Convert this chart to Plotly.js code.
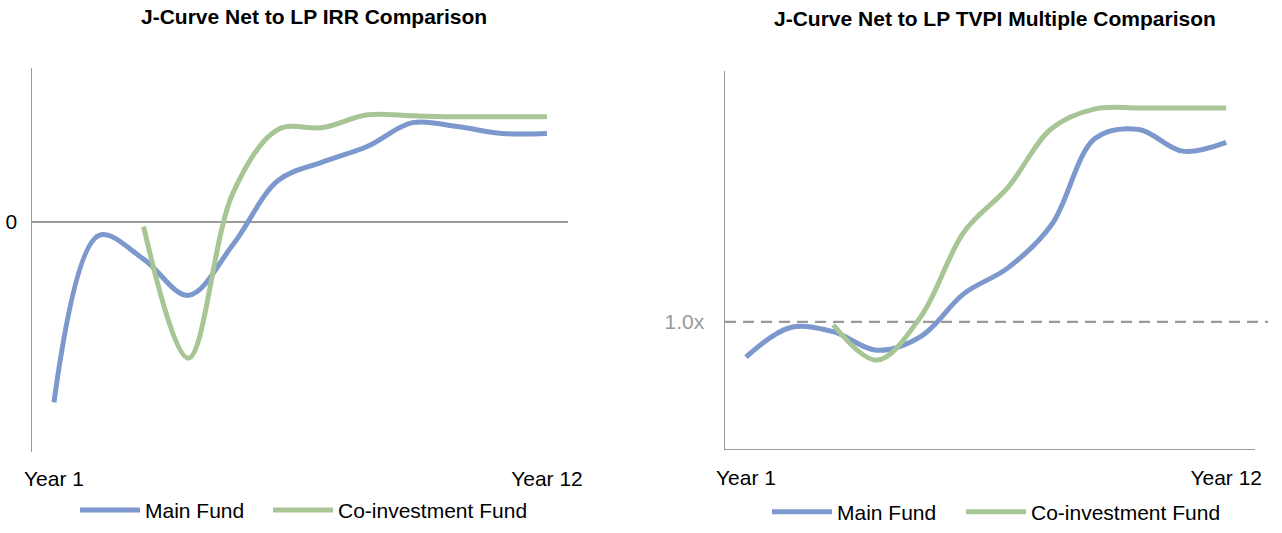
<!DOCTYPE html>
<html><head><meta charset="utf-8">
<script src="https://cdn.plot.ly/plotly-3.0.1.min.js"></script>
<style>html,body{margin:0;padding:0;overflow:hidden;background:#fff;width:1282px;height:533px}#chart{width:1282px;height:533px;display:block}</style>
</head><body><div id="chart"></div>
<script>
// ---- data ----
const years = [1,2,3,4,5,6,7,8,9,10,11,12];
const coinvYears = [3,4,5,6,7,8,9,10,11,12];
const yearTickVals = [1,12];
const yearTickText = ['Year 1','Year 12'];
const seriesNames = ['Main Fund','Co-investment Fund'];
// Net IRR (%)
const irrMain   = [-36.8,-2.8,-7.6,-15.0,-4.6,8.4,12.2,15.4,20.2,19.4,18.0,18.0];
const irrCoinv  = [-1.0,-27.8,6.0,18.8,19.2,21.8,21.6,21.4,21.4,21.4];
// TVPI multiple (x)
const tvpiMain  = [0.856,0.976,0.96,0.884,0.94,1.116,1.22,1.396,1.748,1.784,1.696,1.732];
const tvpiCoinv = [0.988,0.844,1.02,1.368,1.548,1.788,1.868,1.872,1.872,1.872];
const titles = ['J-Curve Net to LP IRR Comparison','J-Curve Net to LP TVPI Multiple Comparison'];

// ---- styles ----
const W = 1282, H = 533;
const px = v => v / W, py = v => (H - v) / H;
const BLUE = '#7c98cc', GREEN = '#a8c596', AXIS = '#9a9a9a';
const FONT = 'Arial, "Liberation Sans", sans-serif';
const lineStyle = c => ({color: c, width: 5, shape: 'spline', smoothing: 1});

const traces = [
  {x: years, y: irrMain, name: seriesNames[0], mode: 'lines', line: lineStyle(BLUE), xaxis: 'x', yaxis: 'y', legend: 'legend'},
  {x: coinvYears, y: irrCoinv, name: seriesNames[1], mode: 'lines', line: lineStyle(GREEN), xaxis: 'x', yaxis: 'y', legend: 'legend2'},
  {x: years, y: tvpiMain, name: seriesNames[0], mode: 'lines', line: lineStyle(BLUE), xaxis: 'x2', yaxis: 'y2', legend: 'legend3'},
  {x: coinvYears, y: tvpiCoinv, name: seriesNames[1], mode: 'lines', line: lineStyle(GREEN), xaxis: 'x2', yaxis: 'y2', legend: 'legend4'}
];

const tickFont = {family: FONT, size: 21, color: '#000'};
const IW = 60;
const legendAt = (textLeft, yc) => ({orientation: 'h', xanchor: 'left', yanchor: 'middle',
  x: px(textLeft - IW - 10), y: py(yc),
  font: {family: FONT, size: 21, color: '#000'}, bgcolor: 'rgba(0,0,0,0)', borderwidth: 0, itemwidth: IW});

const layout = {
  width: W, height: H,
  margin: {l: 0, r: 0, t: 0, b: 0},
  paper_bgcolor: '#fff', plot_bgcolor: '#fff',
  font: {family: FONT},
  xaxis: {domain: [px(32), px(568)], range: [0.51, 12.47], showline: false, showgrid: false, zeroline: false,
    tickvals: yearTickVals, ticktext: yearTickText, tickfont: tickFont, ticks: '', ticklabelstandoff: 12},
  yaxis: {domain: [py(461), py(69)], range: [-47.0, 31.4], showline: true, linecolor: AXIS, linewidth: 1.5,
    zeroline: true, zerolinecolor: AXIS, zerolinewidth: 1.5, showgrid: false,
    tickvals: [0], ticktext: ['0'], tickfont: tickFont, ticks: '', ticklabelstandoff: 9},
  xaxis2: {domain: [px(725), px(1255)], range: [0.519, 12.66], anchor: 'y2', showline: true, linecolor: AXIS, linewidth: 1.5,
    showgrid: false, zeroline: false, tickvals: yearTickVals, ticktext: yearTickText, tickfont: tickFont, ticks: '', ticklabelstandoff: 9},
  yaxis2: {domain: [py(457.5), py(72)], range: [0.482, 2.024], anchor: 'x2', showline: true, linecolor: AXIS, linewidth: 1.5,
    showgrid: false, zeroline: false, tickvals: [1.0], ticktext: ['1.0x'], tickfont: {family: FONT, size: 21, color: '#999'}, ticks: '', ticklabelstandoff: 15},
  shapes: [{type: 'line', xref: 'paper', yref: 'y2', x0: px(725), x1: px(1268), y0: 1.0, y1: 1.0,
    line: {color: AXIS, width: 2.2, dash: '11px,7px'}, layer: 'below'}],
  annotations: [
    {text: '<b>' + titles[0] + '</b>', xref: 'paper', yref: 'paper', x: px(314), y: py(17), showarrow: false,
      xanchor: 'center', yanchor: 'middle', font: {family: FONT, size: 21, color: '#000'}},
    {text: '<b>' + titles[1] + '</b>', xref: 'paper', yref: 'paper', x: px(995), y: py(19), showarrow: false,
      xanchor: 'center', yanchor: 'middle', font: {family: FONT, size: 21, color: '#000'}}
  ],
  legend: legendAt(145, 520),
  legend2: legendAt(338, 520),
  legend3: legendAt(837, 522),
  legend4: legendAt(1031, 522),
  showlegend: true
};

Plotly.newPlot('chart', traces, layout, {displayModeBar: false, staticPlot: true});
</script>
</body></html>
